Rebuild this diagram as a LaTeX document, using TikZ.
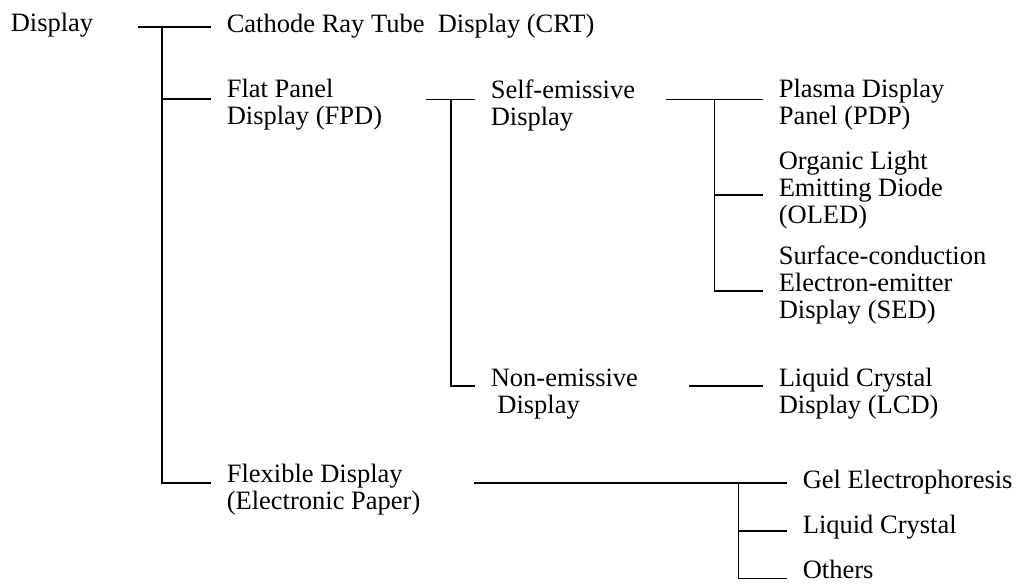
\documentclass[tikz,border=0pt]{standalone}
\usepackage{fontspec}
\setmainfont{Liberation Serif}

\begin{document}
\begin{tikzpicture}[x=0.5pt,y=-0.5pt,line width=0.8pt,
  every node/.style={font=\fontsize{13.25pt}{13.5pt}\selectfont},
  item/.style={anchor=base west,inner xsep=7.5pt,inner ysep=0pt,align=left}]
\useasboundingbox (0,0) rectangle (1018,585);

% first level (nodes sit on the baseline of their last line)
\node[item] (disp) at (-5,31) {Display};
\node[item] (crt) at (211,32) {Cathode Ray Tube\ \ Display (CRT)};
\node[item] (fpd) at (211,124.5) {Flat Panel\\Display (FPD)};
\node[item] (flex) at (211,509) {Flexible Display\\(Electronic Paper)};

% flat panel
\node[item] (self) at (475,125.5) {Self-emissive\\Display};
\node[item] (nonem) at (475,413) {Non-emissive\\\ Display};

\node[item] (pdp) at (763,124.5) {Plasma Display\\Panel (PDP)};
\node[item] (oled) at (763,223.5) {Organic Light\\Emitting Diode\\(OLED)};
\node[item] (sed) at (763,318) {Surface-conduction\\Electron-emitter\\Display (SED)};
\node[item] (lcd) at (763,413) {Liquid Crystal\\Display (LCD)};

% flexible
\node[item] (gel) at (787,488) {Gel Electrophoresis};
\node[item] (lc) at (787,533) {Liquid Crystal};
\node[item] (oth) at (787,578) {Others};

% brackets
\coordinate (a0) at (138,26.7);
\coordinate (j0) at (162,26.7);
\coordinate (j1) at (162,99);
\coordinate (j2) at (162,482.7);
\draw (a0) -- (crt.west |- a0);
\draw (j0) -- (j2) -- (flex.west |- j2);
\draw (j1) -- (fpd.west |- j1);

\coordinate (a1) at (426,99.3);
\coordinate (k0) at (450.7,99.3);
\coordinate (k1) at (450.7,386);
\draw (a1) -- (self.west |- a1);
\draw (k0) -- (k1) -- (nonem.west |- k1);

\coordinate (a2) at (666,99.3);
\coordinate (m0) at (714.3,99.3);
\coordinate (m1) at (714.3,195);
\coordinate (m2) at (714.3,290.7);
\draw (a2) -- (pdp.west |- a2);
\draw (m0) -- (m2) -- (sed.west |- m2);
\draw (m1) -- (oled.west |- m1);

\coordinate (a3) at (689.3,386);
\draw (a3) -- (lcd.west |- a3);

\coordinate (a4) at (474,482.7);
\coordinate (n0) at (738.3,482.7);
\coordinate (n1) at (738.3,531);
\coordinate (n2) at (738.3,578.3);
\draw (a4) -- (gel.west |- a4);
\draw (n0) -- (n2) -- (oth.west |- n2);
\draw (n1) -- (lc.west |- n1);
\end{tikzpicture}
\end{document}
